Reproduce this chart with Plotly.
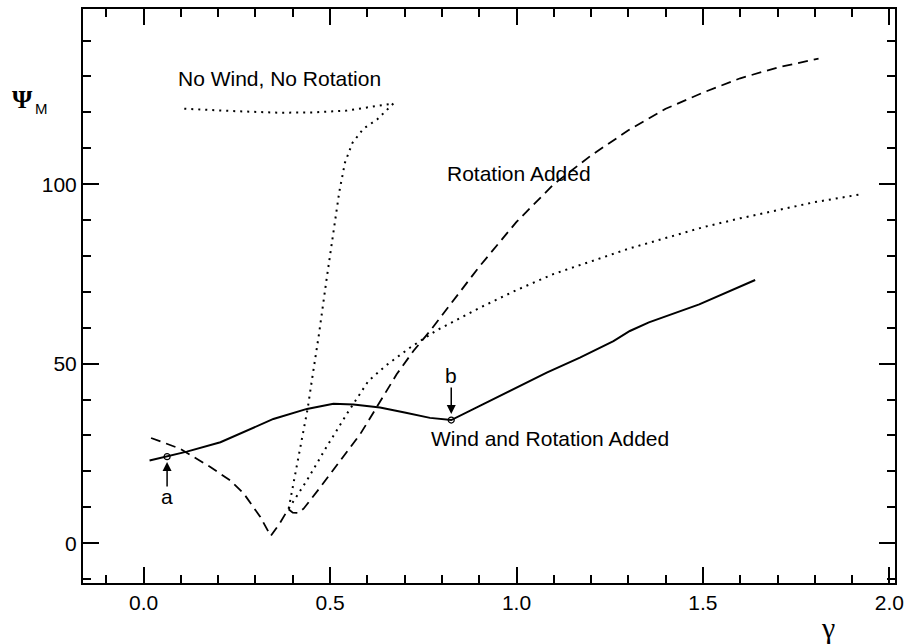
import plotly.graph_objects as go

# Wind and Rotation Added (solid)
solid_x = [0.016, 0.063, 0.116, 0.206, 0.277, 0.348, 0.438, 0.509, 0.563, 0.634, 0.700, 0.768, 0.825,
           0.902, 0.992, 1.081, 1.170, 1.260, 1.304, 1.355, 1.490, 1.640]
solid_y = [23.0, 24.1, 25.5, 28.1, 31.4, 34.6, 37.4, 38.8, 38.6, 37.8, 36.4, 34.9, 34.3,
           38.3, 42.9, 47.5, 51.7, 56.3, 59.1, 61.5, 66.5, 73.3]

# Rotation Added (dashed)
dash_x = [0.020, 0.098, 0.179, 0.232, 0.268, 0.313, 0.341, 0.365, 0.388, 0.400, 0.415, 0.429,
          0.474, 0.527, 0.581, 0.603, 0.648, 0.679, 0.724, 0.768, 0.900, 1.000, 1.100, 1.200,
          1.300, 1.400, 1.500, 1.600, 1.700, 1.810]
dash_y = [29.3, 26.3, 21.2, 17.5, 13.9, 7.3, 2.0, 5.5, 9.5, 8.5, 8.4, 9.6,
          15.6, 23.0, 30.4, 34.1, 42.0, 47.1, 53.6, 59.1, 77.0, 89.5, 100.0, 108.0,
          115.0, 121.0, 125.5, 129.5, 132.5, 135.0]

# No Wind, No Rotation (dotted, folded)
dot1_x = [0.389, 0.420, 0.440, 0.451, 0.470, 0.490, 0.510, 0.525, 0.540, 0.560, 0.590, 0.626,
          0.670, 0.608, 0.545, 0.456, 0.366, 0.232, 0.096]
dot1_y = [9.6, 26.7, 37.5, 45.2, 58.0, 73.0, 88.0, 98.0, 106.0, 111.5, 115.5, 118.0,
          122.5, 121.5, 120.5, 120.0, 119.9, 120.4, 121.1]

# second dotted curve
dot2_x = [0.389, 0.438, 0.490, 0.545, 0.603, 0.650, 0.715, 0.786, 0.900, 1.000, 1.100, 1.200,
          1.300, 1.400, 1.500, 1.600, 1.700, 1.800, 1.930]
dot2_y = [9.6, 17.5, 26.7, 36.0, 45.2, 49.5, 54.5, 59.3, 65.5, 70.5, 75.0, 78.5,
          82.0, 85.0, 88.0, 90.5, 92.8, 95.0, 97.3]

pt_a = (0.063, 24.1)
pt_b = (0.825, 34.3)

x_ticks = [0.0, 0.5, 1.0, 1.5, 2.0]
x_ticktext = ["0.0", "0.5", "1.0", "1.5", "2.0"]
y_ticks = [0, 50, 100]

FONT = "Liberation Sans, Arial, Helvetica, sans-serif"
SERIF = "Liberation Serif, DejaVu Serif, serif"

fig = go.Figure()
fig.add_trace(go.Scatter(x=solid_x, y=solid_y, mode="lines",
                         line=dict(color="black", width=2)))
fig.add_trace(go.Scatter(x=dash_x, y=dash_y, mode="lines",
                         line=dict(color="black", width=1.8, dash="10px,6px")))
fig.add_trace(go.Scatter(x=dot1_x, y=dot1_y, mode="lines",
                         line=dict(color="black", width=2, dash="2px,5px")))
fig.add_trace(go.Scatter(x=dot2_x, y=dot2_y, mode="lines",
                         line=dict(color="black", width=2, dash="2px,5px")))
fig.add_trace(go.Scatter(x=[pt_a[0], pt_b[0]], y=[pt_a[1], pt_b[1]], mode="markers",
                         marker=dict(symbol="circle-open", size=6, color="black",
                                     line=dict(width=1.2, color="black"))))

annots = []
def txt(x, y, s, size=21, family=FONT, ref="data"):
    r = ("x", "y") if ref == "data" else ("paper", "paper")
    annots.append(dict(x=x, y=y, xref=r[0], yref=r[1], text=s, showarrow=False,
                       font=dict(family=family, size=size, color="black"),
                       xanchor="center", yanchor="middle"))

txt(0.365, 129.4, "No Wind, No Rotation")
txt(1.008, 103.0, "Rotation Added")
txt(1.09, 29.1, "Wind and Rotation Added")
txt(0.825, 46.6, "b")
txt(0.063, 12.9, "a")
# axis titles (paper coordinates, outside the plot area)
txt(0.9175, -0.078, "γ", size=30, family=SERIF, ref="paper")
txt(-0.0751, 0.842, "<b>Ψ</b>", size=26, family=SERIF, ref="paper")
txt(-0.0517, 0.826, "M", size=15, ref="paper")

# arrows
annots.append(dict(x=pt_a[0], y=22.6, xref="x", yref="y", ax=0, ay=26, text="",
                   showarrow=True, arrowhead=2, arrowsize=1.2, arrowwidth=1.5, arrowcolor="black"))
annots.append(dict(x=pt_b[0], y=36.0, xref="x", yref="y", ax=0, ay=-28, text="",
                   showarrow=True, arrowhead=2, arrowsize=1.2, arrowwidth=1.5, arrowcolor="black"))

axis_common = dict(showgrid=False, zeroline=False, showline=True, linecolor="black", linewidth=2,
                   mirror="ticks", ticks="inside", tickcolor="black", tickwidth=2, ticklen=16,
                   tickfont=dict(family=FONT, size=21, color="black"))

fig.update_layout(
    width=912, height=644,
    margin=dict(l=83, r=17, t=7, b=61),
    paper_bgcolor="white", plot_bgcolor="white",
    showlegend=False,
    annotations=annots,
    xaxis=dict(range=[-0.1625, 2.015], tickvals=x_ticks, ticktext=x_ticktext,
               minor=dict(ticks="inside", ticklen=8, tickwidth=2, tickcolor="black", dtick=0.1, tick0=0),
               **axis_common),
    yaxis=dict(range=[-11.1, 148.8], tickvals=y_ticks,
               minor=dict(ticks="inside", ticklen=8, tickwidth=2, tickcolor="black", dtick=10, tick0=0),
               **axis_common),
)

fig.write_html("out.html")
